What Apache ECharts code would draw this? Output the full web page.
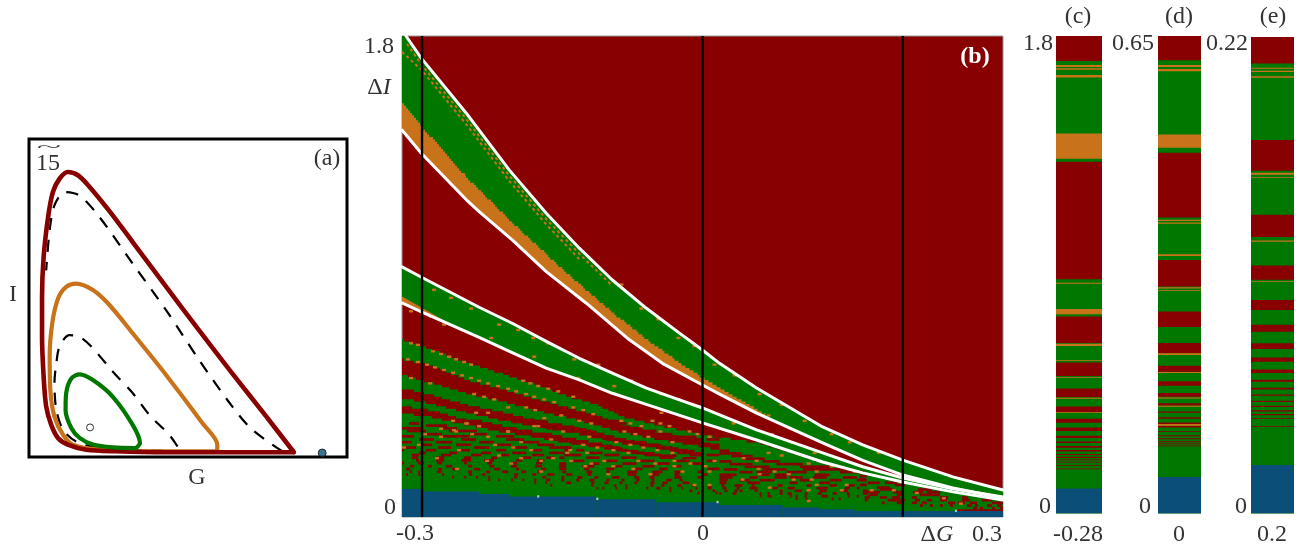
<!DOCTYPE html>
<html><head><meta charset="utf-8">
<style>html,body{margin:0;padding:0;background:#fff}#c{width:1313px;height:552px}</style>
<script src="https://cdn.jsdelivr.net/npm/echarts@6/dist/echarts.min.js"></script>
</head><body><div id="c"></div>
<script>
/* Panel (a): orbits in the G-I plane, axes read as 0..100 */
const orbitRed=[[83.3,1.5],[74.4,13],[63.9,26.3],[53.5,39.8],[43.1,53.6],[32.6,67.6],[25.3,77.3],[19,85],[15.4,88.6],[12.2,89.6],[9.6,87.5],[7.5,83.3],[6,75.4],[4.6,62.9],[4.1,50.4],[4.1,37.8],[4.6,25.3],[5.4,15.9],[7,10.1],[9.1,6],[12.2,3.9],[18,2.3],[27.4,1.8],[43.1,1.5],[63.9,1.5],[83.3,1.5]];
const orbitOrange=[[59.2,1.8],[59.2,3.9],[54.5,10.7],[43.1,25.8],[32.6,38.9],[25.3,47.8],[20.1,52.5],[14.8,54.5],[11.7,53.5],[9.1,49.8],[7.3,42],[6.5,31.6],[6.7,21.1],[8,12.7],[10.7,7],[13.8,3.9],[22.2,2.3],[37.8,1.8],[59.2,1.8]];
const orbitGreen=[[33.6,2.8],[34.9,4.4],[32.6,10.1],[26.3,19],[20.1,24.2],[15.9,26],[13.3,24.7],[11.7,20.1],[11.5,14.8],[13.3,9.1],[15.9,6],[20.1,3.9],[26.3,3],[33.6,2.8]];
const dashOuter=[[79.6,1.8],[70.2,8.6],[63.9,15.9],[53.5,30.5],[43.1,46.2],[32.6,60.8],[22.2,75.4],[15.9,82.2],[11.2,83.3],[8,79.1],[6.5,71.3],[5.4,58.7]];
const dashInner=[[46.7,3.3],[44.1,7],[37.8,13.3],[32.6,20.1],[26.3,26.9],[20.1,34.2],[15.9,37.8],[12.7,38.3],[9.6,34.7],[8.6,29.5],[8,23.2],[8.6,14.8],[10.7,8.6],[14.8,4.9],[22.2,2.8],[34.7,2.1],[42,2]];
const pointOpen=[[19.2,9.3]];
const pointBlue=[[92.2,1.25]];

/* Panel (b): x in 0.001 of dG, y in 0.01 of dI */
const sections=[-280,0,200];
const curveW1=[[-296,180],[-281,171.8],[-236,151.2],[-193,129.9],[-156,113.7],[-123,100.6],[-90,88.7],[-56,78.1],[-23,68.8],[0,62.5],[17,57.5],[54,48.3],[120,33.7],[160,27],[200,21.3],[250,15],[300,10.1]];
const curveW2=[[-300,144.8],[-281,136.2],[-236,118.8],[-223,114.3],[-190,103.7],[-156,91.8],[-116,80],[-73,66.3],[-40,57.5],[0,49.4],[17,46],[54,38.9],[120,27.7],[160,21.2],[200,15.7],[250,10.9],[300,7.1]];
const curveW3=[[-300,93.6],[-281,89.8],[-223,78.5],[-190,72.5],[-156,65.7],[-123,59.4],[-90,53.8],[-56,48.2],[-23,43.8],[0,40.8],[54,32.6],[120,24],[160,18.8],[200,14.6],[250,10.6],[300,7.5]];
const curveW4=[[-300,80.1],[-280,76.7],[-223,67.2],[-190,61.5],[-156,55.7],[-123,51.3],[-90,46.3],[-63,43],[0,35.2],[54,28.8],[120,20.6],[160,16.5],[200,13.1],[250,9.4],[300,6.4]];
const wedgeTop=[[-300,180],[-296,180]];
const orangeEdge=[[-300,154.9],[-281,146],[-236,127],[-223,122.2],[-190,109.9],[-156,98.1],[-123,86.9],[-90,76.3],[-56,66.3],[-23,57.5],[0,51.9],[20,47.5],[37,43.8],[64,38]];
const orangeEdgeLow=[[-300,144.8],[-281,136.2],[-236,118.8],[-223,114.3],[-190,103.7],[-156,91.8],[-116,80],[-73,66.3],[-40,57.5],[0,49.4],[17,46],[54,38.9],[64,37.3]];
const orangeLeft=[[-300,82.5],[-281,78.5],[-260,74]];
const orangeLeftLow=[[-300,80.1],[-280,76.7],[-260,73.2]];
const speckleA=[[-295,177],[-281,169.5],[-236,149],[-193,127.8],[-156,111.5],[-123,98.5],[-90,86.5]];
const speckleB=[[-300,174],[-281,167.5],[-236,147],[-193,125.8],[-156,109.5],[-123,96.5]];
const greenTop=[[-300,66.2],[-270,62.5],[-236,57.8],[-203,53.8],[-170,50],[-136,45.2],[-106,41.9],[-80,37.5],[-46,34.3],[0,30.6],[54,27.8],[120,20.2],[200,13],[300,6.3]];
const greenBase=[[-300,0],[300,0]];
const band1Top=[[-300,59],[-270,56.5],[-236,51.2],[-203,48.1],[-170,44.4],[-136,41],[-106,38.1],[-80,34.3],[-46,31.8],[0,28.1],[17,26.5]];
const band1Low=[[-300,53.1],[-270,50],[-236,46.2],[-203,43.5],[-170,40],[-136,37.2],[-106,34.4],[-80,31.5],[-46,29],[0,26.2],[17,25]];
const band2Top=[[-300,48.1],[-270,45.6],[-236,41.9],[-203,39.4],[-170,36.5],[-136,34.4],[-106,31.9],[-80,29],[-46,26.8],[0,24.3]];
const band2Low=[[-300,44.4],[-270,42.2],[-236,39],[-203,36.3],[-170,34],[-136,31.9],[-106,29.8],[-80,27.4],[-46,25.6],[0,23.1]];
const band3Top=[[-300,41.5],[-270,39.8],[-236,36.3],[-203,33.8],[-170,31.9],[-136,29.8],[-106,27.8],[-80,25.6],[-46,23.7],[0,21.8]];
const band3Low=[[-300,38.8],[-270,37.3],[-236,34.4],[-203,31.9],[-170,30],[-136,27.8],[-106,26],[-80,24.7],[-46,23],[0,21.2]];
const blueSteps=[[10.5,-300,-280],[9.5,-280,-223],[8.6,-223,-193],[7.7,-193,-106],[6.6,-106,-46],[5.5,-46,17],[4.5,17,80],[3.6,80,117],[2.9,117,152],[2.2,152,300]];
const redRows=[
[35.9,-250,-220],[35.9,-190,-156],[35,-293,-283],[35,-238,-210],[35,-180,-156],[34.2,-276,-255],[34.2,-223,-200],[34.2,-168,-146],[33.2,-300,-281],[33.2,-260,-245],[33.2,-206,-186],[33.2,-156,-143],[32.2,-295,-276],[32.2,-253,-225],[32.2,-193,-170],[31,-276,-260],[31,-233,-215],[31,-173,-150],[30.2,-301,-288],[30.2,-260,-233],[30.2,-206,-188],[30.2,-163,-143],[29,-283,-268],[29,-241,-226],[29,-196,-178],[29,-153,-143],[28,-301,-290],[28,-266,-250],[28,-223,-208],[28,-181,-163],[27,-280,-270],[27,-246,-231],[27,-206,-191],[27,-165,-148],[26,-299,-286],[26,-264,-251],[26,-228,-213],[26,-191,-175],[26,-153,-143],[25,-301,-298],[25,-276,-266],[25,-244,-232],[25,-206,-196],[25,-171,-160],[24,-283,-276],[24,-253,-245],[24,-221,-211],[24,-190,-176],[24,-153,-143],[23.2,-290,-283],[23.2,-261,-251],[23.2,-231,-221],[23.2,-201,-193],[23.2,-170,-158],[22.2,-290,-284],[22.2,-266,-258],[22.2,-238,-231],[22.2,-211,-205],[22.2,-181,-171],[22.2,-156,-148],[21.2,-286,-283],[21.2,-266,-258],[21.2,-241,-231],[21.2,-218,-208],[21.2,-186,-180],[21.2,-165,-158],[20.2,-301,-298],[20.2,-284,-278],[20.2,-265,-260],[20.2,-238,-235],[20.2,-215,-210],[20.2,-191,-185],[20.2,-166,-160],[19,-292,-288],[19,-274,-270],[19,-256,-250],[19,-234,-230],[19,-213,-208],[19,-191,-185],[19,-167,-160],[17.9,-296,-292],[17.9,-264,-260],[17.9,-250,-246],[17.9,-228,-222],[17.9,-208,-202],[17.9,-186,-183],[17.9,-161,-156],[16.9,-292,-290],[16.9,-284,-282],[16.9,-265,-261],[16.9,-234,-230],[16.9,-216,-212],[16.9,-200,-194],[16.9,-181,-176],[16.9,-165,-161],[15.9,-296,-294],[15.9,-284,-282],[15.9,-260,-258],[15.9,-233,-230],[15.9,-220,-217],[15.9,-188,-184],[15.9,-170,-166],[15.9,-155,-148],[14.9,-250,-248],[14.9,-238,-236],[14.9,-226,-224],[14.9,-214,-212],[14.9,-188,-185],[14.9,-160,-156],[13.9,-214,-212],[13.9,-204,-202],[13.9,-191,-189],[13.9,-180,-178],[13.9,-168,-166],[13.9,-156,-152],[12.9,-168,-166],[12.9,-157,-155],[11.9,-152,-150],
[35.9,-110,-83],[35.9,-50,-23],[35,-110,-76],[35,-43,0],[34,-100,-80],[34,-33,-3],[33.2,-140,-123],[33.2,-80,-60],[33.2,-16,0],[32.2,-138,-125],[32.2,-123,-111],[32.2,-66,-46],[32.2,4,17],[31,-123,-100],[31,-53,-30],[30,-113,-88],[30,-33,-6],[29,-143,-133],[29,-96,-76],[29,-20,0],[29,4,17],[28,-133,-115],[28,-76,-56],[27,-115,-100],[27,-63,-43],[27,4,17],[26,-143,-131],[26,-98,-83],[26,-46,-30],[25,-138,-133],[25,-126,-118],[25,-86,-75],[25,-33,-15],[24,-143,-138],[24,-115,-100],[24,-71,-58],[24,-25,-10],[23.2,-138,-121],[23.2,-98,-83],[23.2,-58,-41],[23.2,-13,-1],[23.2,4,17],[22.2,-143,-138],[22.2,-116,-103],[22.2,-81,-66],[22.2,-43,-28],[21,-131,-118],[21,-98,-85],[21,-65,-48],[21,-28,-13],[21,4,14],[20,-143,-136],[20,-113,-103],[20,-80,-66],[20,-46,-33],[20,-11,-1],[19,-143,-136],[19,-120,-108],[19,-90,-80],[19,-60,-48],[19,-30,-21],[18,-143,-136],[18,-118,-113],[18,-96,-88],[18,-68,-60],[18,-43,-35],[18,5,17],[16.9,-140,-136],[16.9,-116,-110],[16.9,-96,-93],[16.9,-75,-65],[16.9,-50,-40],[16.9,-28,-21],[16.9,-5,0],[15.9,-136,-130],[15.9,-115,-111],[15.9,-75,-66],[15.9,-51,-43],[15.9,-28,-23],[15.9,0,5],[14.8,-141,-138],[14.8,-125,-120],[14.8,-108,-104],[14.8,-90,-83],[14.8,-68,-63],[14.8,-53,-48],[14.8,-28,-21],[14.8,-5,-1],[13.8,-141,-138],[13.8,-126,-123],[13.8,-113,-108],[13.8,-96,-93],[13.8,-81,-78],[13.8,-66,-63],[13.8,-51,-48],[13.8,-36,-31],[13.8,-23,-20],[12.8,-136,-131],[12.8,-111,-108],[12.8,-98,-94],[12.8,-83,-80],[12.8,-68,-65],[12.8,-52,-48],[12.8,-40,-35],[12.8,-20,-13],[11.8,-111,-109],[11.8,-88,-86],[11.8,-77,-75],[11.8,-52,-49],[11.8,-41,-38],[11.8,-25,-21],[11.8,-11,-8],[11.8,5,9],[10.8,-106,-104],[10.8,-100,-98],[10.8,-87,-85],[10.8,-77,-75],[10.8,-56,-54],[10.8,-46,-42],[10.8,-33,-31],[10.8,-21,-19],[10.8,-7,-5],[10.8,5,9],[9.8,-33,-31],[9.8,-13,-10],[9.8,10,13],[9,-5,-3],[9,13,15],
[24.8,17,27],[23.8,17,39],[22.8,29,50],[21.8,39,62],[20.8,17,29],[20.8,60,77],[19.8,27,50],[19.8,74,100],[18.8,42,67],[18.8,97,127],[17.8,21,35],[17.8,60,84],[17.8,100,144],[16.8,37,50],[16.8,54,69],[16.8,84,104],[16.8,137,160],[15.8,17,34],[15.8,55,67],[15.8,72,87],[15.8,112,127],[14.8,17,30],[14.8,47,55],[14.8,72,84],[14.8,87,100],[14.8,110,124],[14.8,140,154],[13.8,17,25],[13.8,37,47],[13.8,57,72],[13.8,97,109],[13.8,127,139],[13.8,154,164],[12.8,17,24],[12.8,45,57],[12.8,87,95],[12.8,117,127],[11.8,19,22],[11.8,32,40],[11.8,49,52],[11.8,75,80],[11.8,104,109],[11.8,127,134],[11.8,145,152],[10.8,20,24],[10.8,34,37],[10.8,47,55],[10.8,70,75],[10.8,85,92],[10.8,114,125],[10.8,142,147],[10.8,154,157],[9.8,22,25],[9.8,32,35],[9.8,37,40],[9.8,52,55],[9.8,77,80],[9.8,92,99],[9.8,117,124],[9.8,137,145],[9.8,160,165],[8.8,17,19],[8.8,30,34],[8.8,57,59],[8.8,65,67],[8.8,77,80],[8.8,85,89],[8.8,102,105],[8.8,115,119],[8.8,130,134],[8.8,144,147],[8.8,160,165],[7.8,57,59],[7.8,65,69],[7.8,87,89],[7.8,93,95],[7.8,102,104],[7.8,119,125],[7.8,145,147],[7.8,154,156],[7.8,165,167],[6.8,93,95],[6.8,103,105],[6.8,129,131],[6.8,136,138],
[16.6,157,162],[15.3,157,164],[14.1,157,163],[12.8,165,177],[12.8,182,194],[12,157,164],[12,192,202],[11,174,187],[10.3,177,190],[10.3,215,229],[9.3,164,177],[9.3,190,200],[9.3,210,220],[9.3,224,237],[8.3,167,175],[8.3,194,200],[8.3,217,237],[7.3,162,167],[7.3,177,184],[7.3,189,197],[7.3,209,214],[7.3,237,245],[7.3,259,265],[6.3,162,165],[6.3,185,202],[6.3,212,217],[6.3,224,229],[6.3,237,244],[6.3,259,267],[6.3,279,289],[5.3,179,182],[5.3,194,199],[5.3,209,214],[5.3,219,224],[5.3,245,252],[5.3,255,262],[5.3,267,274],[5.3,289,300],[4.3,217,220],[4.3,227,230],[4.3,237,240],[4.3,247,250],[4.3,264,269],[4.3,272,275],[4.3,284,289],[4.3,294,299],[3.3,270,274],[3.3,277,280],[3.3,289,292],[3.3,297,300],[2.4,255,300]
];
const orangeCells=[[-251,36],[-237,35],[-225,34],[-263,33],[-248,32],[-196,32],[-279,31],[-232,31],[-216,30],[-263,30],[-153,29],[-285,27],[-209,27],[-183,28],[-300,26],[-191,26],[-245,25],[-173,25],[-205,23],[-267,22],[-183,22],[-151,22],[-217,21],[-163,21],[-193,20],[-247,18],[-163,17],
[-125,36],[-113,35],[-83,36],[-74,35],[-52,36],[-44,35],[-63,34],[-35,34],[-141,32],[-80,32],[-44,32],[-15,32],[-69,31],[-7,31],[5,30],[-115,30],[-56,30],[-88,28],[-32,28],[-121,27],[-74,27],[-107,26],[-61,26],[-134,25],[-91,25],[-47,25],[-137,24],[-117,24],[-76,24],[-32,24],[-133,21],[-100,21],[-66,21],[-30,21],[10,21],[-113,20],[-49,20],[-14,20],[-119,19],[-91,19],[-30,19],[1,19],[-71,18],[-22,17],[5,17],[-96,16],[-54,16],[-10,12],[5,12],
[39,22],[52,21],[77,23],[64,24],[104,20],[38,14],[55,16],[70,17],[54,18],[84,16],[89,14],[112,17],[127,19],[107,14],[65,11],[104,10],[112,12],[137,10],[142,12],[150,17],[104,6],[167,10],[189,10],[239,7],[212,9],[196,13],[256,5],
[-270,85],[-253,82],[-233,78],[-205,72],[-186,70],[-171,67],[-156,65],[-130,59],[-106,57],[-73,51],[-43,46],[-26,44],[-6,41.5],[-293,77],[-273,75],[-260,72],[-213,67],[-170,60],[-126,52],[-90,49],[-43,39],
[-83,87],[-63,78],[-46,74],[-26,67],[-10,64],[10,57],[30,53],[55,46],[77,42],[100,36],[127,31],[145,28],[174,24],[30,44],[47,41],[64,38],[29,35],[67,31],[87,28],[110,24],
[-293,65],[-286,64.4],[-271,62],[-263,61],[-255,60],[-248,59],[-240,58],[-233,57],[-296,59],[-286,58],[-277,57],[-269,56],[-260,55],[-251,54],[-242,53],[-233,52],[-225,51],[-216,50],[-206,49],[-196,48],[-188,47],[-178,46],[-170,45],[-160,44],[-150,43],[-131,45],[-293,52],[-274,50],[-230,46],[-220,45],[-210,44],[-196,41],[-178,41],[-169,40],[-156,48],[-181,51],[-174,50],[-166,49],[-146,47],[-216,39],[-228,39],[-170,34],[-160,37],[-143,38],[-131,41],[-121,40],[-111,38.5],[-250,32.5],[-238,35],[-225,34],[-196,32],[-166,34]];
const paleCells=[[-165,7.7],[-106,6.8],[14,5.6],[252,2.3]];

/* Panels (c), (d), (e): stripes as [upper, lower], in 0.001 of dI */
const cRed=[[1800,1706],[1326,883],[743,643],[569,518],[471,439],[403,383],[357,342],[324,311],[293,285],[271,266],[254,248],[239,234],[224,221],[214,209],[204,202],[195,193.5],[183,181],[170,169]];
const cOrange=[[1691,1683],[1678,1673],[1653,1644],[1432,1337],[870,866],[771,751],[640,631],[579,577],[515,513],[436,434],[382,380]];
const cBlue=[[94,0]];
const dRed=[[650,617],[491,403],[345,309],[275,254],[232,218],[201,193],[180,174],[164,159],[150,147],[139,137],[131,129],[124,122],[119,117],[112,111.5],[106.4,106],[102.3,102],[98.2,98],[95.4,95],[92.7,92.3]];
const dOrange=[[610.4,607.7],[605,602],[516,498],[400,398],[396,394.5],[353,350.5],[308,306.4],[304,302.8],[218,215.7],[192.6,191.2],[158,156.7],[146.7,145.4],[121.8,119.5]];
const dBlue=[[49.7,0]];
const eRed=[[220,207.8],[172.4,158.2],[137.9,127.7],[114.5,107.9],[98.6,94],[87.1,83.9],[78.6,76],[72,70.1],[66.5,64.9],[61.8,60.8],[58.1,57.2],[54.9,54.4],[52.1,51.5],[49.8,49.2],[47.7,47.1],[45.97,45.4],[44.1,43.7],[40.4,40.1]];
const eOrange=[[205.8,205.3],[204.4,203.8],[201.9,201.2],[157.3,156.4],[155.4,155],[126,125.5],[107.4,107]];
const eBlue=[[22.4,0]];

/* Tick labels */
const bXTicks=['-0.3','0','0.3'];
const bYTicks=['1.8','0'];
const sideTop=['1.8','0.65','0.22'];
const sideBottom=['-0.28','0','0.2'];
const panelTags=['(a)','(b)','(c)','(d)','(e)'];

const RED='#880000',GREEN='#007800',ORANGE='#C8731A',BLUE='#0B4F78',TEXT='#333333',FONT='"Liberation Serif","DejaVu Serif",serif',FS=24;

/* pixelated map look: an edge is drawn on the map's cell raster */
function raster(edge,cw,ch){
  const out=[];
  for(let i=0;i<edge.length-1;i++){
    const a=edge[i],b=edge[i+1];
    for(let x=a[0];x<b[0];x+=cw){
      const y=a[1]+(b[1]-a[1])*(x-a[0])/(b[0]-a[0]);
      const s=Math.round(y/ch)*ch;
      out.push([x,s],[Math.min(x+cw,b[0]),s]);
    }
  }
  return out;
}
function poly(name,upper,lower,color,axis,stairs){
  const up=stairs?raster(upper,2,0.9):upper, lo=stairs?raster(lower,2,0.9):lower;
  const pts=up.concat(lo.slice().reverse());
  return {type:'custom',name,xAxisIndex:axis,yAxisIndex:axis,clip:true,silent:true,data:pts,encode:{x:0,y:1},
    renderItem:(p,api)=>{ if(p.dataIndex!==0) return null;
      return {type:'polygon',shape:{points:pts.map(q=>api.coord(q))},style:{fill:color}}; }};
}
function rows(name,list,color,h){
  return {type:'custom',name,xAxisIndex:1,yAxisIndex:1,clip:true,silent:true,data:list,encode:{x:[1,2],y:0},
    renderItem:(p,api)=>{ const a=api.coord([api.value(1),api.value(0)+h/2]),b=api.coord([api.value(2),api.value(0)-h/2]);
      return {type:'rect',shape:{x:a[0],y:a[1],width:b[0]-a[0],height:b[1]-a[1]},style:{fill:color}}; }};
}
function cells(name,list,color,w){
  return {type:'custom',name,xAxisIndex:1,yAxisIndex:1,clip:true,silent:true,data:list,encode:{x:0,y:1},
    renderItem:(p,api)=>{ const a=api.coord([api.value(0),api.value(1)+0.45]),b=api.coord([api.value(0)+w,api.value(1)-0.45]);
      return {type:'rect',shape:{x:a[0],y:a[1],width:b[0]-a[0],height:b[1]-a[1]},style:{fill:color}}; }};
}
function stripes(name,list,color,axis){
  return {type:'custom',name,xAxisIndex:axis,yAxisIndex:axis,clip:true,silent:true,data:list,encode:{y:[0,1]},
    renderItem:(p,api)=>{ const a=api.coord([0,api.value(0)]),b=api.coord([1,api.value(1)]);
      return {type:'rect',shape:{x:a[0],y:a[1],width:b[0]-a[0],height:Math.max(b[1]-a[1],0.8)},style:{fill:color}}; }};
}
function curve(name,data,color,width,axis,extra){
  return Object.assign({type:'line',name,data,xAxisIndex:axis,yAxisIndex:axis,showSymbol:false,symbol:'none',silent:true,
    smooth:0.3,lineStyle:{color,width,cap:'round',join:'round'}},extra||{});
}
function label(text,x,y,size,opts){
  return {type:'text',x,y,silent:true,z:50,style:Object.assign({text,fill:TEXT,font:(size||FS)+'px '+FONT,align:'center',verticalAlign:'middle'},opts||{})};
}

const grids=[
 {left:29,top:139,width:318,height:318,show:true,borderColor:'#000',borderWidth:3,backgroundColor:'#fff'},
 {left:402,top:36,width:601,height:481,show:true,borderColor:'#999',borderWidth:1,backgroundColor:RED},
 {left:1056,top:36,width:46,height:477.5,show:true,borderWidth:0,backgroundColor:GREEN},
 {left:1158,top:36,width:43,height:477.5,show:true,borderWidth:0,backgroundColor:GREEN},
 {left:1251,top:37,width:43,height:476.5,show:true,borderWidth:0,backgroundColor:GREEN}
];
const ranges=[[0,100,0,100],[-300,300,0,180],[0,1,0,1800],[0,1,0,650],[0,1,0,220]];
const xAxes=ranges.map((r,i)=>({type:'value',gridIndex:i,min:r[0],max:r[1],show:false}));
const yAxes=ranges.map((r,i)=>({type:'value',gridIndex:i,min:r[2],max:r[3],show:false}));
const mapLine={smooth:false};

const series=[
 curve('dashOuter',dashOuter,'#000',2,0,{lineStyle:{color:'#000',width:2.2,type:[12,10]}}),
 curve('dashInner',dashInner,'#000',2,0,{lineStyle:{color:'#000',width:2.2,type:[12,10]}}),
 curve('orbitOrange',orbitOrange,ORANGE,4.2,0),
 curve('orbitRed',orbitRed,RED,4.6,0),
 curve('orbitGreen',orbitGreen,GREEN,4.2,0),
 {type:'scatter',name:'pointOpen',data:pointOpen,xAxisIndex:0,yAxisIndex:0,symbolSize:7,silent:true,itemStyle:{color:'#fff',borderColor:'#000',borderWidth:1}},
 {type:'scatter',name:'pointBlue',data:pointBlue,xAxisIndex:0,yAxisIndex:0,symbolSize:8,silent:true,itemStyle:{color:BLUE,borderColor:'#111',borderWidth:1}},

 poly('wedge1',wedgeTop.concat(curveW1),curveW2,GREEN,1),
 poly('wedge1Orange',raster(orangeEdge,2,0.9),orangeEdgeLow,ORANGE,1),
 curve('speckleA',speckleA,ORANGE,2,1,{smooth:false,lineStyle:{color:ORANGE,width:2,type:[3,3]}}),
 curve('speckleB',speckleB,ORANGE,2,1,{smooth:false,lineStyle:{color:ORANGE,width:2,type:[3,3]}}),
 poly('wedge2',curveW3,curveW4,GREEN,1),
 poly('wedge2Orange',orangeLeft,orangeLeftLow,ORANGE,1),
 poly('greenBase',raster(greenTop,2,0.9),greenBase,GREEN,1),
 poly('band1',band1Top,band1Low,RED,1,true),
 poly('band2',band2Top,band2Low,RED,1,true),
 poly('band3',band3Top,band3Low,RED,1,true),
 rows('redRows',redRows,RED,1),
 cells('orangeCells',orangeCells,ORANGE,4),
 {type:'custom',name:'blue',xAxisIndex:1,yAxisIndex:1,clip:true,silent:true,data:blueSteps,encode:{x:[1,2],y:0},
  renderItem:(p,api)=>{const a=api.coord([api.value(1),api.value(0)]),b=api.coord([api.value(2),0]);
   return {type:'rect',shape:{x:a[0],y:a[1],width:b[0]-a[0],height:b[1]-a[1]},style:{fill:BLUE}};}},
 cells('pale',paleCells,'#B9C4C9',2),
 curve('W1',curveW1,'#fff',3,1,mapLine),
 curve('W2',curveW2,'#fff',3,1,mapLine),
 curve('W3',curveW3,'#fff',3,1,mapLine),
 curve('W4',curveW4,'#fff',3,1,mapLine)
].concat(sections.map((s,i)=>({type:'line',name:'section'+i,data:[[s,0],[s,180]],xAxisIndex:1,yAxisIndex:1,showSymbol:false,symbol:'none',silent:true,lineStyle:{color:'#000',width:2.4}})),[
 stripes('cRed',cRed,RED,2),stripes('cOrange',cOrange,ORANGE,2),stripes('cBlue',cBlue,BLUE,2),
 stripes('dRed',dRed,RED,3),stripes('dOrange',dOrange,ORANGE,3),stripes('dBlue',dBlue,BLUE,3),
 stripes('eRed',eRed,RED,4),stripes('eOrange',eOrange,ORANGE,4),stripes('eBlue',eBlue,BLUE,4)
]);

const graphic=[
 label('15',48,164,FS),
 {type:'text',x:49,y:148,silent:true,z:50,scaleX:3,style:{text:'~',fill:TEXT,font:'15px '+FONT,align:'center',verticalAlign:'middle'}},
 label(panelTags[0],327,159,FS),
 label('I',13,295,FS),
 label('G',197,478,FS),
 label(panelTags[1],975,57,FS,{fill:'#fff',font:'bold '+FS+'px '+FONT}),
 label(bYTicks[0],379,47,FS),
 {type:'text',x:379,y:88,silent:true,z:50,style:{text:'Δ{i|I}',fill:TEXT,font:FS+'px '+FONT,align:'center',verticalAlign:'middle',rich:{i:{font:'italic '+FS+'px '+FONT,fill:TEXT}}}},
 label(bYTicks[1],390,508,FS),
 label(bXTicks[0],415,534,FS),
 label(bXTicks[1],703,534,FS),
 {type:'text',x:937,y:535,silent:true,z:50,style:{text:'Δ{i|G}',fill:TEXT,font:FS+'px '+FONT,align:'center',verticalAlign:'middle',rich:{i:{font:'italic '+FS+'px '+FONT,fill:TEXT}}}},
 label(bXTicks[2],987,535,FS),
 label(panelTags[2],1078,17,FS),label(panelTags[3],1179,17,FS),label(panelTags[4],1273,17,FS),
 label(sideTop[0],1038,44,FS),label(sideTop[1],1133,44,FS),label(sideTop[2],1227,44,FS),
 label('0',1045,507,FS),label('0',1145,507,FS),label('0',1241,507,FS),
 label(sideBottom[0],1078,535,FS),label(sideBottom[1],1179,535,FS),label(sideBottom[2],1272,535,FS)
];

const chart=echarts.init(document.getElementById('c'),null,{renderer:'canvas',width:1313,height:552});
chart.setOption({animation:false,backgroundColor:'#fff',tooltip:{show:false},legend:{show:false},grid:grids,xAxis:xAxes,yAxis:yAxes,series,graphic});
</script></body></html>
